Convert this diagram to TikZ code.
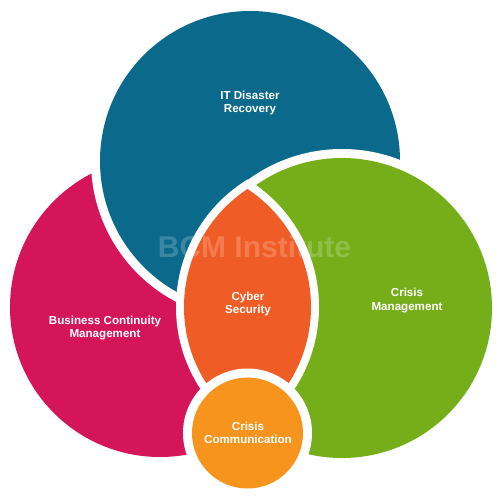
\documentclass[tikz,border=0pt]{standalone}
\usepackage{fontspec}
\setmainfont{Liberation Sans}
\definecolor{bblue}{HTML}{0B6A8C}
\definecolor{bmag}{HTML}{D4155A}
\definecolor{bgreen}{HTML}{76AE1A}
\definecolor{blens}{HTML}{F05C25}
\definecolor{borange}{HTML}{F7941E}
\tikzset{
  lbl/.style={text=white, font=\bfseries\fontsize{11.6}{13.6}\selectfont, align=center, inner sep=0pt, anchor=base},
  wmark/.style={text=white, text opacity=0.2, font=\bfseries\fontsize{30}{30}\selectfont, inner sep=0pt, anchor=base}
}
\begin{document}
\begin{tikzpicture}[x=1pt,y=-1pt]
\useasboundingbox (0,0) rectangle (500,500);
\fill[white] (0,0) rectangle (500,500);
% Business Continuity Management
\fill[bmag] (160,307) circle[radius=150pt];
% IT Disaster Recovery
\fill[white] (250,161) circle[radius=159pt];
\fill[bblue] (250,161) circle[radius=150pt];
% Crisis Management
\fill[white] (342,308) circle[radius=159pt];
\fill[bgreen] (342,308) circle[radius=150pt];
% Cyber Security lens
\begin{scope}
  \clip (169.6,307) circle[radius=149.4pt];
  \fill[white] (325.4,307) circle[radius=149.4pt];
\end{scope}
\begin{scope}
  \clip (169.6,307) circle[radius=141.4pt];
  \fill[blens] (325.4,307) circle[radius=141.4pt];
\end{scope}
% Crisis Communication
\fill[white] (247.5,433) circle[radius=64.5pt];
\fill[borange] (247.5,433) circle[radius=55.5pt];
% watermark
\node[wmark] (wm) at (254.5,257) {BCM Institute};
% labels (anchor = baseline of the last line)
\node[lbl] (itdr) at (250,112.8) {IT Disaster\\Recovery};
\node[lbl] (cyber) at (248,313.6) {Cyber\\Security};
\node[lbl] (bcm) at (105,337.6) {Business Continuity\\Management};
\node[lbl] (cm) at (407,310.1) {Crisis\\Management};
\node[lbl] (cc) at (248,443.6) {Crisis\\Communication};
\end{tikzpicture}
\end{document}
